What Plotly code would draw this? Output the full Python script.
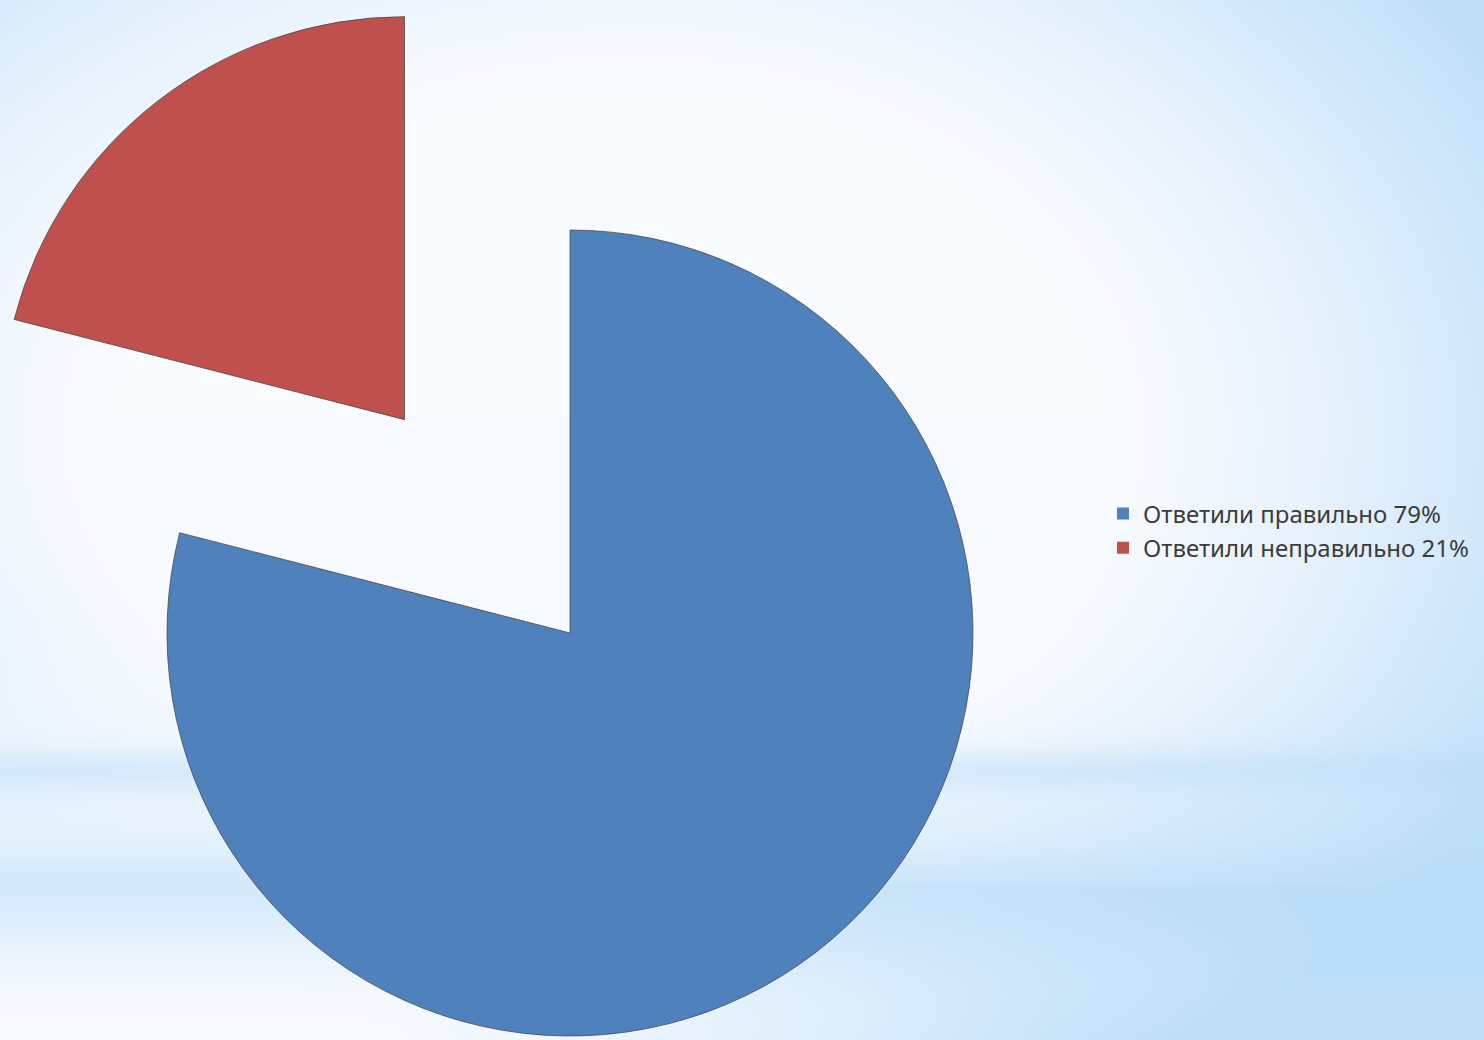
import base64
import math
import struct
import zlib

import numpy as np
import plotly.graph_objects as go

# ---------------- data ----------------
labels = ["Ответили правильно 79%", "Ответили неправильно 21%"]
values = [79, 21]
colors = ["#4f81bd", "#c0504d"]
pull_fraction = 0.67  # how far the red slice is pulled out (fraction of radius)

# ---------------- geometry (px) ----------------
W, H = 1484, 1040
cx, cy, R = 570.0, 633.0, 403.0  # centre / radius of the main pie in pixels

total = float(sum(values))
# mid-angle of second slice, clockwise from 12 o'clock
mid = (values[0] + values[1] / 2.0) / total * 2 * math.pi
off = pull_fraction * R
rcx = cx + off * math.sin(mid)
rcy = cy - off * math.cos(mid)


def domain(px, py, r):
    return dict(x=[(px - r) / W, (px + r) / W],
                y=[1 - (py + r) / H, 1 - (py - r) / H])


# ---------------- background gradient image ----------------
def make_bg():
    s = 4
    w, h = W // s + 1, H // s + 1
    X, Y = np.meshgrid(np.arange(w) * s, np.arange(h) * s)
    X = X.astype(float)
    Y = Y.astype(float)
    cxg = 640.0
    rx = np.where(X < cxg, 980.0, 860.0)
    d = np.sqrt(((X - cxg) / rx) ** 2 + ((Y - 430) / 640.0) ** 2)
    w1 = np.clip((d - 0.55) / 0.6, 0, 1) ** 1.3 * 0.9
    damp = 1 - np.clip((Y - 620) / 260.0, 0, 1) * np.clip((1050 - X) / 650.0, 0, 1)
    w1 = w1 * damp
    w2 = 0.42 * np.exp(-((Y - 772) / 20.0) ** 2)
    sig3 = np.where(Y > 885, 75.0, 32.0)
    w3 = 0.5 * np.exp(-((Y - 885) / sig3) ** 2)
    w4 = 0.55 * np.exp(-(np.clip(Y - 885, 0, None) / 110.0) ** 2) * (Y > 885) * np.clip((X - 300) / 1000.0, 0, 1)
    w5 = 0.22 * np.exp(-((Y - 830) / 70.0) ** 2)
    ww = 1 - (1 - w1) * (1 - w2) * (1 - w3) * (1 - w4) * (1 - w5)
    white = np.array([248, 251, 255], float)
    blue = np.array([186, 221, 248], float)
    img = white[None, None, :] * (1 - ww[..., None]) + blue[None, None, :] * ww[..., None]
    img = np.clip(img, 0, 255).astype(np.uint8)
    raw = b"".join(b"\x00" + img[i].tobytes() for i in range(h))

    def chunk(t, data):
        c = struct.pack(">I", len(data)) + t + data
        return c + struct.pack(">I", zlib.crc32(t + data) & 0xFFFFFFFF)

    png = b"\x89PNG\r\n\x1a\n"
    png += chunk(b"IHDR", struct.pack(">IIBBBBB", w, h, 8, 2, 0, 0, 0))
    png += chunk(b"IDAT", zlib.compress(raw, 9))
    png += chunk(b"IEND", b"")
    return "data:image/png;base64," + base64.b64encode(png).decode()


transparent = "rgba(0,0,0,0)"
edge = "rgba(70,70,70,0.75)"

fig = go.Figure()

# legend carrier (tiny, hidden beneath the main slice)
fig.add_trace(go.Pie(
    labels=labels, values=values, sort=False, direction="clockwise",
    marker=dict(colors=colors, line=dict(color=edge, width=0)),
    textinfo="none", hoverinfo="skip", showlegend=True,
    domain=dict(x=[0.45, 0.452], y=[0.3, 0.302]),
))

# main (blue) slice
fig.add_trace(go.Pie(
    labels=labels, values=values, sort=False, direction="clockwise",
    marker=dict(colors=[colors[0], transparent], line=dict(color=[edge, transparent], width=[1, 0])),
    textinfo="none", showlegend=False,
    domain=domain(cx, cy, R),
))

# exploded (red) slice
fig.add_trace(go.Pie(
    labels=labels, values=values, sort=False, direction="clockwise",
    marker=dict(colors=[transparent, colors[1]], line=dict(color=[transparent, edge], width=[0, 1])),
    textinfo="none", showlegend=False,
    domain=domain(rcx, rcy, R),
))

fig.update_layout(
    width=W, height=H,
    margin=dict(l=0, r=0, t=0, b=0),
    paper_bgcolor="#f3f8fd",
    plot_bgcolor="rgba(0,0,0,0)",
    images=[dict(source=make_bg(), xref="paper", yref="paper", x=0, y=1,
                 sizex=1, sizey=1, sizing="stretch", layer="below", xanchor="left", yanchor="top")],
    legend=dict(x=1103 / W, y=1 - 531 / H, xanchor="left", yanchor="middle",
                font=dict(family="Noto Sans, DejaVu Sans, sans-serif", size=24, color="#3c3c3c"),
                bgcolor="rgba(0,0,0,0)", tracegroupgap=0, itemclick=False, itemdoubleclick=False),
)

fig.write_html(
    "out.html",
    config={"displayModeBar": False},
    post_script="document.body.style.margin='0px';document.body.style.overflow='hidden';",
)
